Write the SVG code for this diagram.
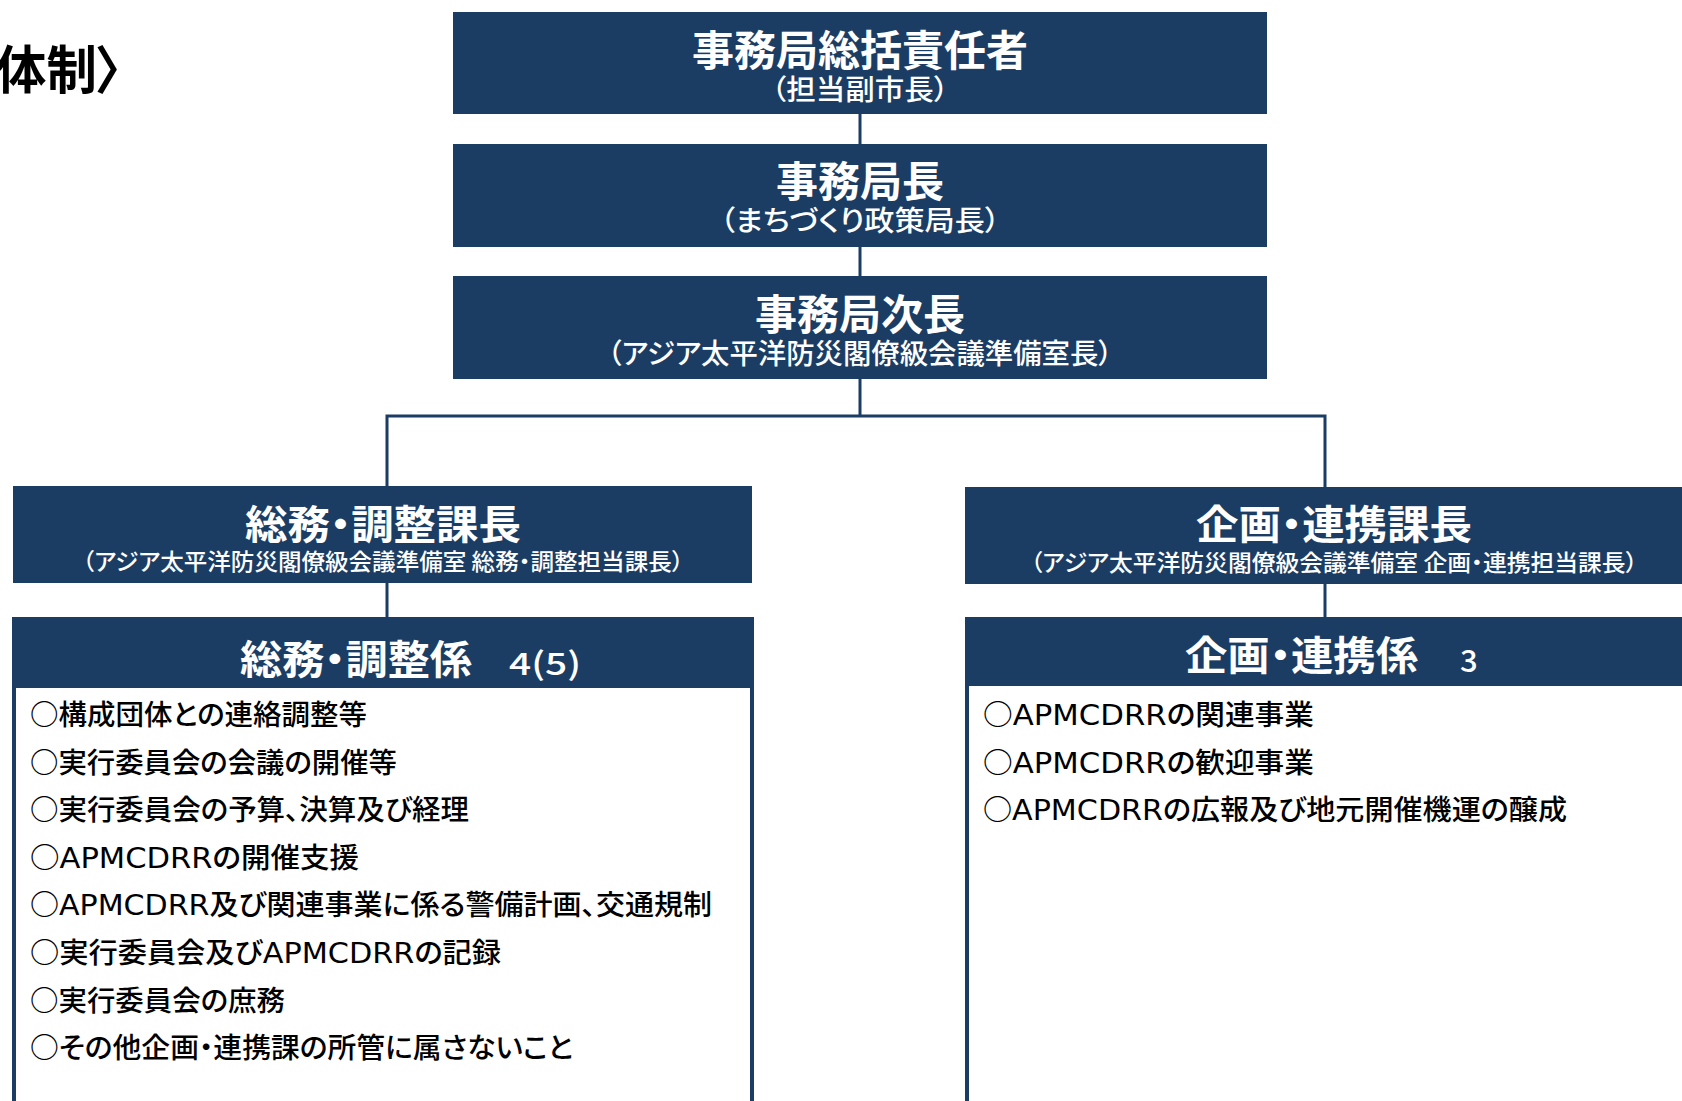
<svg xmlns="http://www.w3.org/2000/svg" width="1682" height="1101" viewBox="0 0 1682 1101">
  <style>
    text { font-family: "Noto Sans CJK JP", "Noto Sans CJK SC", sans-serif; font-feature-settings: "palt"; }
    .box { fill: #1b3d64; }
    .body { fill: #ffffff; stroke: #1b3d64; stroke-width: 4; }
    .conn { stroke: #1b3d64; stroke-width: 3; fill: none; }
    .t1 { fill: #ffffff; font-size: 42px; font-weight: 700; text-anchor: middle; }
    .s1 { fill: #ffffff; font-size: 28px; font-weight: 500; text-anchor: middle; }
    .t2 { fill: #ffffff; font-size: 40px; font-weight: 700; text-anchor: middle; }
    .s2 { fill: #ffffff; font-size: 23px; font-weight: 500; text-anchor: middle; }
    .h { fill: #ffffff; font-size: 40px; font-weight: 700; }
    .n { fill: #ffffff; font-size: 31px; font-weight: 500; }
    .li { fill: #000000; font-size: 28px; font-weight: 500; }
    .lat { font-family: "DejaVu Sans", sans-serif; font-size: 29px; }
    .title { fill: #000000; font-size: 52px; font-weight: 700; }
  </style>

  <text class="title" x="-4" y="89" textLength="126" lengthAdjust="spacingAndGlyphs">体制〉</text>

  <g id="connectors">
    <line class="conn" x1="860" y1="114" x2="860" y2="144"/>
    <line class="conn" x1="860" y1="247" x2="860" y2="276"/>
    <line class="conn" x1="860" y1="379" x2="860" y2="416"/>
    <polyline class="conn" points="387,486 387,416 1325,416 1325,487"/>
    <line class="conn" x1="387" y1="583" x2="387" y2="617"/>
    <line class="conn" x1="1325" y1="584" x2="1325" y2="617"/>
  </g>

  <g id="node-sokatsu">
    <rect class="box" x="453" y="12" width="814" height="102"/>
    <text class="t1" x="860" y="66">事務局総括責任者</text>
    <text class="s1" x="860" y="100" textLength="177" lengthAdjust="spacingAndGlyphs">（担当副市長）</text>
  </g>

  <g id="node-kyokucho">
    <rect class="box" x="453" y="144" width="814" height="103"/>
    <text class="t1" x="860" y="197">事務局長</text>
    <text class="s1" x="860" y="231" textLength="280" lengthAdjust="spacingAndGlyphs">（まちづくり政策局長）</text>
  </g>

  <g id="node-jicho">
    <rect class="box" x="453" y="276" width="814" height="103"/>
    <text class="t1" x="860" y="330">事務局次長</text>
    <text class="s1" x="860" y="364" textLength="505" lengthAdjust="spacingAndGlyphs">（アジア太平洋防災閣僚級会議準備室長）</text>
  </g>

  <g id="node-somu-kacho">
    <rect class="box" x="13" y="486" width="739" height="97"/>
    <text class="t2" x="383" y="539" textLength="276" lengthAdjust="spacingAndGlyphs">総務・調整課長</text>
    <text class="s2" x="383" y="570" textLength="601" lengthAdjust="spacingAndGlyphs">（アジア太平洋防災閣僚級会議準備室 総務・調整担当課長）</text>
  </g>

  <g id="node-kikaku-kacho">
    <rect class="box" x="965" y="487" width="739" height="97"/>
    <text class="t2" x="1334" y="539" textLength="276" lengthAdjust="spacingAndGlyphs">企画・連携課長</text>
    <text class="s2" x="1334" y="571" textLength="607" lengthAdjust="spacingAndGlyphs">（アジア太平洋防災閣僚級会議準備室 企画・連携担当課長）</text>
  </g>

  <g id="node-somu-kakari">
    <rect class="body" x="14" y="619" width="738" height="600"/>
    <rect class="box" x="12" y="617" width="742" height="71"/>
    <text class="h" x="240" y="674" textLength="232" lengthAdjust="spacingAndGlyphs">総務・調整係</text>
    <text class="n" x="509" y="675" textLength="72" lengthAdjust="spacingAndGlyphs">4(5)</text>
    <text class="li" x="30" y="725" textLength="337" lengthAdjust="spacingAndGlyphs">○構成団体との連絡調整等</text>
    <text class="li" x="30" y="772.6" textLength="367" lengthAdjust="spacingAndGlyphs">○実行委員会の会議の開催等</text>
    <text class="li" x="30" y="820.2" textLength="439" lengthAdjust="spacingAndGlyphs">○実行委員会の予算、決算及び経理</text>
    <text class="li" x="30" y="867.8" textLength="329" lengthAdjust="spacingAndGlyphs">○<tspan class="lat">APMCDRR</tspan>の開催支援</text>
    <text class="li" x="30" y="915.4" textLength="682" lengthAdjust="spacingAndGlyphs">○<tspan class="lat">APMCDRR</tspan>及び関連事業に係る警備計画、交通規制</text>
    <text class="li" x="30" y="963" textLength="471" lengthAdjust="spacingAndGlyphs">○実行委員会及び<tspan class="lat">APMCDRR</tspan>の記録</text>
    <text class="li" x="30" y="1010.6" textLength="255" lengthAdjust="spacingAndGlyphs">○実行委員会の庶務</text>
    <text class="li" x="30" y="1058.2" textLength="543" lengthAdjust="spacingAndGlyphs">○その他企画・連携課の所管に属さないこと</text>
  </g>

  <g id="node-kikaku-kakari">
    <rect class="body" x="967" y="619" width="740" height="600"/>
    <rect class="box" x="965" y="617" width="742" height="69"/>
    <text class="h" x="1185" y="670" textLength="233" lengthAdjust="spacingAndGlyphs">企画・連携係</text>
    <text class="n" x="1460" y="672">3</text>
    <text class="li" x="983" y="725" textLength="331" lengthAdjust="spacingAndGlyphs">○<tspan class="lat">APMCDRR</tspan>の関連事業</text>
    <text class="li" x="983" y="772.6" textLength="331" lengthAdjust="spacingAndGlyphs">○<tspan class="lat">APMCDRR</tspan>の歓迎事業</text>
    <text class="li" x="983" y="820.2" textLength="584" lengthAdjust="spacingAndGlyphs">○<tspan class="lat">APMCDRR</tspan>の広報及び地元開催機運の醸成</text>
  </g>
</svg>
